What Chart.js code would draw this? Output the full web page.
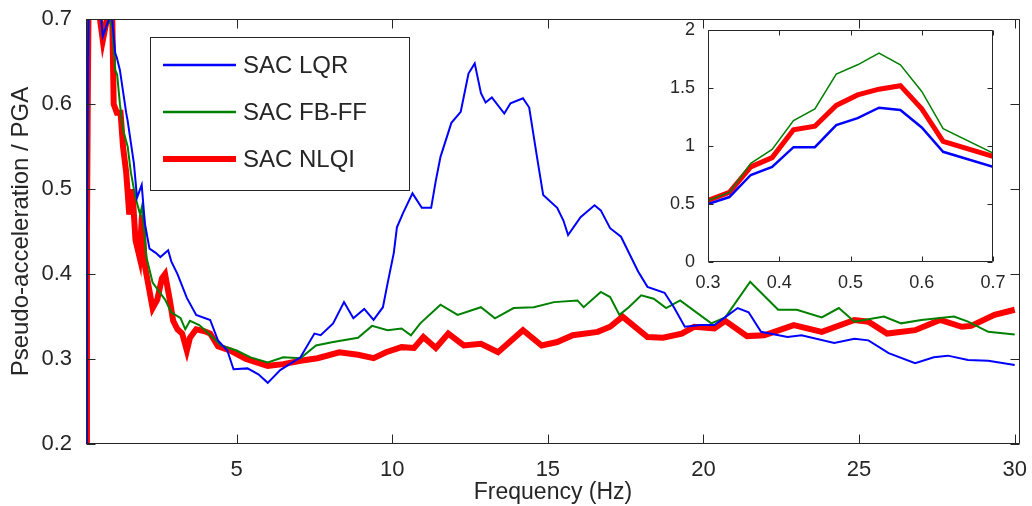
<!DOCTYPE html>
<html lang="en">
<head>
  <meta charset="UTF-8" />
  <title>Pseudo-acceleration spectrum</title>
  <style>
    body {
      margin: 0;
      background-color: #ffffff;
    }

    .wrap {
      position: relative;
      width: 1032px;
      height: 506px;
    }

    .wrap canvas {
      position: absolute;
      left: 0;
      top: 0;
      width: 1032px;
      height: 506px;
    }
  </style>
</head>
<body>
  <div class="wrap">
    <canvas id="mainChart" width="1032" height="506"></canvas>
    <canvas id="insetChart" width="1032" height="506"></canvas>
  </div>

  <script src="https://cdn.jsdelivr.net/npm/chart.js"></script>

  <script>
    // series labels
    const seriesLabels = ["SAC LQR", "SAC FB-FF", "SAC NLQI"];

    // main plot: frequency (Hz) and pseudo-acceleration / PGA
    const lqrFreq = [0.17, 0.19, 0.22, 0.25, 0.4, 0.6, 0.7, 0.9, 1.0, 1.1, 1.15, 1.25, 1.35, 1.45, 1.5, 1.6, 1.7, 1.8, 1.95, 2.05, 2.2, 2.4, 2.55, 2.8, 2.9, 3.1, 3.4, 3.7, 4.15, 4.4, 4.7, 4.9, 5.35, 5.7, 6.0, 6.4, 7.05, 7.5, 7.7, 8.1, 8.45, 8.75, 9.1, 9.4, 9.7, 9.85, 10.05, 10.15, 10.35, 10.65, 10.95, 11.25, 11.4, 11.55, 11.9, 12.2, 12.45, 12.65, 12.85, 13.0, 13.2, 13.6, 13.8, 14.2, 14.4, 14.65, 14.85, 15.3, 15.5, 15.65, 16.05, 16.5, 16.7, 17.0, 17.35, 17.9, 18.2, 18.75, 19.05, 19.4, 19.9, 20.35, 20.8, 21.1, 21.45, 21.85, 22.7, 23.15, 24.2, 24.85, 25.3, 25.95, 26.8, 27.4, 27.85, 28.5, 29.15, 30.0];
    const lqrVals = [0.2, 0.45, 0.62, 0.75, 0.85, 0.72, 0.68, 0.7, 0.7, 0.66, 0.655, 0.64, 0.615, 0.59, 0.58, 0.555, 0.53, 0.49, 0.505, 0.46, 0.43, 0.425, 0.42, 0.428, 0.415, 0.4, 0.372, 0.352, 0.346, 0.322, 0.31, 0.288, 0.289, 0.282, 0.272, 0.287, 0.302, 0.33, 0.328, 0.342, 0.367, 0.348, 0.359, 0.346, 0.361, 0.389, 0.425, 0.455, 0.472, 0.495, 0.478, 0.478, 0.51, 0.538, 0.578, 0.591, 0.636, 0.648, 0.613, 0.602, 0.608, 0.589, 0.601, 0.607, 0.596, 0.538, 0.493, 0.478, 0.463, 0.446, 0.467, 0.481, 0.475, 0.454, 0.444, 0.403, 0.385, 0.378, 0.361, 0.338, 0.34, 0.34, 0.352, 0.36, 0.355, 0.332, 0.326, 0.328, 0.319, 0.324, 0.322, 0.307, 0.295, 0.302, 0.304, 0.299, 0.298, 0.293];

    const fbffFreq = [0.17, 0.19, 0.22, 0.25, 0.4, 0.6, 0.7, 0.9, 1.0, 1.1, 1.16, 1.25, 1.35, 1.5, 1.6, 1.75, 1.9, 1.96, 2.1, 2.3, 2.5, 2.7, 2.9, 3.2, 3.35, 3.5, 3.8, 4.1, 4.5, 5.0, 5.45, 6.0, 6.5, 7.05, 7.55, 8.1, 8.9, 9.35, 9.85, 10.3, 10.6, 10.9, 11.55, 12.1, 12.85, 13.3, 13.9, 14.55, 15.2, 15.95, 16.15, 16.7, 17.0, 17.3, 17.6, 18.0, 18.4, 18.8, 19.25, 20.25, 20.7, 21.5, 22.4, 23.0, 23.8, 24.35, 24.85, 25.8, 26.35, 27.0, 28.05, 28.5, 29.15, 30.0];
    const fbffVals = [0.2, 0.45, 0.62, 0.75, 0.85, 0.72, 0.68, 0.7, 0.69, 0.64, 0.635, 0.6, 0.57, 0.55, 0.52, 0.49, 0.47, 0.48, 0.42, 0.39, 0.38, 0.37, 0.355, 0.348, 0.335, 0.345, 0.34, 0.33, 0.316, 0.31, 0.302, 0.296, 0.302, 0.301, 0.316, 0.32, 0.325, 0.339, 0.334, 0.336, 0.328, 0.342, 0.364, 0.352, 0.361, 0.348, 0.36, 0.361, 0.367, 0.369, 0.361, 0.379, 0.373, 0.352, 0.361, 0.375, 0.371, 0.36, 0.369, 0.342, 0.349, 0.391, 0.358, 0.358, 0.349, 0.36, 0.344, 0.35, 0.342, 0.346, 0.35, 0.344, 0.332, 0.329];

    const nlqiFreq = [0.17, 0.19, 0.22, 0.25, 0.4, 0.61, 0.7, 0.78, 0.9, 1.0, 1.05, 1.15, 1.27, 1.35, 1.45, 1.55, 1.65, 1.75, 1.88, 1.96, 2.05, 2.15, 2.3, 2.45, 2.6, 2.7, 2.85, 2.96, 3.1, 3.25, 3.4, 3.5, 3.7, 3.95, 4.15, 4.4, 4.8, 5.3, 6.0, 6.5, 7.05, 7.6, 8.3, 8.9, 9.4, 9.8, 10.3, 10.7, 11.0, 11.4, 11.8, 12.3, 12.85, 13.4, 14.2, 14.8, 15.3, 15.8, 16.6, 17.0, 17.4, 18.2, 18.7, 19.3, 19.7, 20.35, 20.7, 21.4, 21.95, 22.9, 23.8, 24.85, 25.3, 25.9, 26.8, 27.6, 28.3, 28.6, 29.35, 30.0];
    const nlqiVals = [0.2, 0.45, 0.62, 0.75, 0.85, 0.7, 0.675, 0.69, 0.71, 0.71, 0.6, 0.59, 0.59, 0.55, 0.52, 0.47, 0.5, 0.44, 0.42, 0.47, 0.41, 0.39, 0.36, 0.37, 0.395, 0.4, 0.37, 0.345, 0.335, 0.33, 0.31, 0.325, 0.335, 0.333, 0.33, 0.315, 0.31, 0.3, 0.292, 0.294, 0.298, 0.301, 0.308, 0.305, 0.301, 0.308, 0.314, 0.313, 0.326, 0.313, 0.33, 0.316, 0.318, 0.308, 0.334, 0.316, 0.32, 0.328, 0.332, 0.338, 0.35, 0.326, 0.325, 0.33, 0.338, 0.336, 0.345, 0.327, 0.328, 0.34, 0.332, 0.346, 0.344, 0.33, 0.334, 0.346, 0.338, 0.339, 0.352, 0.358];

    const xTickVals = [5, 10, 15, 20, 25, 30];
    const yTickVals = [0.2, 0.3, 0.4, 0.5, 0.6, 0.7];

    // inset: zoom on 0.3 - 0.7 Hz
    const insetFreq = [0.3, 0.33, 0.36, 0.39, 0.42, 0.45, 0.48, 0.51, 0.54, 0.57, 0.6, 0.63, 0.7];
    const insetLqr  = [0.5, 0.56, 0.75, 0.82, 0.99, 0.99, 1.18, 1.24, 1.33, 1.31, 1.16, 0.95, 0.82];
    const insetFbff = [0.53, 0.6, 0.85, 0.97, 1.22, 1.32, 1.62, 1.7, 1.8, 1.7, 1.47, 1.15, 0.94];
    const insetNlqi = [0.53, 0.6, 0.82, 0.9, 1.14, 1.17, 1.35, 1.44, 1.49, 1.52, 1.32, 1.04, 0.91];

    const insetXTicks = [0.3, 0.4, 0.5, 0.6, 0.7];
    const insetYTicks = [0, 0.5, 1, 1.5, 2];

    const colors = ["#0000ff", "#008000", "#ff0000"];
    const axisColor = "#262626";

    Chart.defaults.font.family = "'Liberation Sans', Arial, sans-serif";
    Chart.defaults.color = axisColor;

    function pts(xs, ys) {
      return xs.map((x, i) => ({ x: x, y: ys[i] }));
    }

    // box around the plot with inward ticks on all four sides
    function axesBox(tickLen, fillWhite) {
      return {
        id: "axesBox",
        beforeDatasetsDraw(chart) {
          if (!fillWhite) return;
          const a = chart.chartArea;
          const ctx = chart.ctx;
          ctx.save();
          ctx.fillStyle = "#ffffff";
          ctx.fillRect(a.left, a.top, a.right - a.left, a.bottom - a.top);
          ctx.restore();
        },
        afterDatasetsDraw(chart) {
          const { ctx, chartArea: a, scales } = chart;
          const l = Math.round(a.left) + 0.5, r = Math.round(a.right) - 0.5;
          const t = Math.round(a.top) + 0.5, b = Math.round(a.bottom) - 0.5;
          ctx.save();
          ctx.strokeStyle = axisColor;
          ctx.lineWidth = 1;
          ctx.beginPath();
          ctx.rect(l, t, r - l, b - t);
          scales.x.ticks.forEach(tk => {
            const px = Math.round(scales.x.getPixelForValue(tk.value)) + 0.5;
            ctx.moveTo(px, b); ctx.lineTo(px, b - tickLen);
            ctx.moveTo(px, t); ctx.lineTo(px, t + tickLen);
          });
          scales.y.ticks.forEach(tk => {
            const py = Math.round(scales.y.getPixelForValue(tk.value)) + 0.5;
            ctx.moveTo(l, py); ctx.lineTo(l + tickLen, py);
            ctx.moveTo(r, py); ctx.lineTo(r - tickLen, py);
          });
          ctx.stroke();
          ctx.restore();
        }
      };
    }

    // MATLAB style legend box in the upper left
    const boxLegend = {
      id: "boxLegend",
      afterDraw(chart) {
        const ctx = chart.ctx;
        ctx.save();
        ctx.fillStyle = "#ffffff";
        ctx.fillRect(150, 37, 259, 153);
        ctx.strokeStyle = axisColor;
        ctx.lineWidth = 1;
        ctx.strokeRect(150.5, 37.5, 259, 153);
        ctx.font = "24px 'Liberation Sans', Arial, sans-serif";
        ctx.textBaseline = "middle";
        chart.data.datasets.forEach((ds, i) => {
          const y = 65 + i * 47;
          ctx.strokeStyle = ds.borderColor;
          ctx.lineWidth = i === 2 ? 6 : 2.5;
          ctx.beginPath();
          ctx.moveTo(163, y);
          ctx.lineTo(236, y);
          ctx.stroke();
          ctx.fillStyle = axisColor;
          ctx.fillText(ds.label, 243, y + 1);
        });
        ctx.restore();
      }
    };

    new Chart(document.getElementById("mainChart"), {
      type: "line",
      data: {
        datasets: [
          { label: seriesLabels[0], data: pts(lqrFreq, lqrVals), borderColor: colors[0], borderWidth: 2 },
          { label: seriesLabels[1], data: pts(fbffFreq, fbffVals), borderColor: colors[1], borderWidth: 2 },
          { label: seriesLabels[2], data: pts(nlqiFreq, nlqiVals), borderColor: colors[2], borderWidth: 6 }
        ]
      },
      options: {
        responsive: false,
        animation: false,
        events: [],
        layout: { padding: { left: 0, top: 19, right: 10, bottom: 0 } },
        elements: { point: { radius: 0 }, line: { tension: 0 } },
        plugins: { legend: { display: false }, tooltip: { enabled: false } },
        scales: {
          x: {
            type: "linear",
            min: 0.16,
            max: 30.17,
            grid: { display: false },
            border: { display: false },
            afterBuildTicks: s => { s.ticks = xTickVals.map(v => ({ value: v })); },
            afterFit: s => { s.height = 62; },
            ticks: { font: { size: 22 }, padding: 5, maxRotation: 0, callback: v => String(v) },
            title: { display: true, text: "Frequency (Hz)", font: { size: 23 }, padding: { top: 0, bottom: 0 } }
          },
          y: {
            type: "linear",
            min: 0.2,
            max: 0.7,
            grid: { display: false },
            border: { display: false },
            afterBuildTicks: s => { s.ticks = yTickVals.map(v => ({ value: v })); },
            afterFit: s => { s.width = 86; },
            ticks: { font: { size: 22 }, padding: 6, callback: v => v.toFixed(1) },
            title: { display: true, text: "Pseudo-acceleration / PGA", font: { size: 24 }, padding: { top: 7, bottom: 0 } }
          }
        }
      },
      plugins: [axesBox(9, false), boxLegend]
    });

    new Chart(document.getElementById("insetChart"), {
      type: "line",
      data: {
        datasets: [
          { label: seriesLabels[0], data: pts(insetFreq, insetLqr), borderColor: colors[0], borderWidth: 2.5 },
          { label: seriesLabels[1], data: pts(insetFreq, insetFbff), borderColor: colors[1], borderWidth: 1.5 },
          { label: seriesLabels[2], data: pts(insetFreq, insetNlqi), borderColor: colors[2], borderWidth: 5 }
        ]
      },
      options: {
        responsive: false,
        animation: false,
        events: [],
        layout: { padding: { left: 0, top: 30, right: 39, bottom: 0 } },
        elements: { point: { radius: 0 }, line: { tension: 0 } },
        plugins: { legend: { display: false }, tooltip: { enabled: false } },
        scales: {
          x: {
            type: "linear",
            min: 0.3,
            max: 0.7,
            grid: { display: false },
            border: { display: false },
            afterBuildTicks: s => { s.ticks = insetXTicks.map(v => ({ value: v })); },
            afterFit: s => { s.height = 244; },
            ticks: { font: { size: 18 }, padding: 2, maxRotation: 0, callback: v => v.toFixed(1) }
          },
          y: {
            type: "linear",
            min: 0,
            max: 2,
            grid: { display: false },
            border: { display: false },
            afterBuildTicks: s => { s.ticks = insetYTicks.map(v => ({ value: v })); },
            afterFit: s => { s.width = 708; },
            ticks: { font: { size: 18 }, padding: 5, callback: v => String(v) }
          }
        }
      },
      plugins: [axesBox(5, true)]
    });
  </script>
</body>
</html>
